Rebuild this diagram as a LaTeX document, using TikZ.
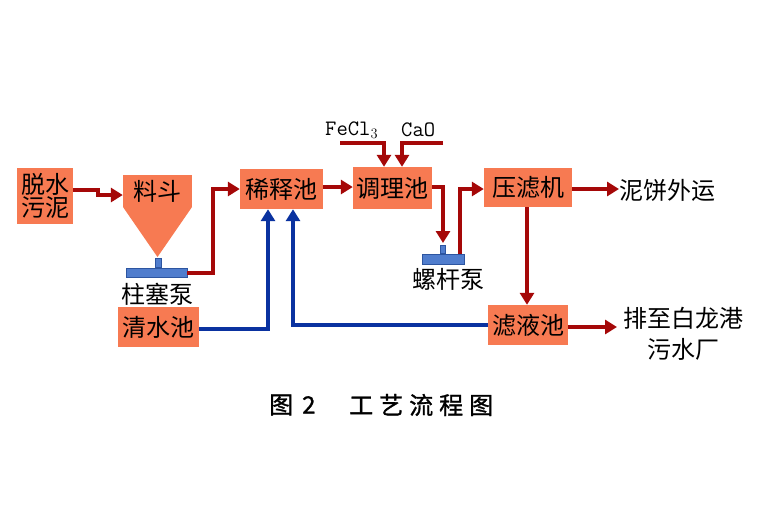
\documentclass[tikz,border=0pt]{standalone}
\usepackage{fontspec}
\newfontfamily\cjk{Noto Sans CJK SC}
\newfontfamily\cjkb{Noto Sans CJK SC}[FakeBold=1.2]
\usetikzlibrary{arrows.meta}
\definecolor{boxor}{RGB}{247,122,82}
\definecolor{flowred}{RGB}{165,8,8}
\definecolor{flowblue}{RGB}{10,50,160}
\definecolor{pumpfill}{RGB}{80,125,205}
\definecolor{pumpdraw}{RGB}{45,85,160}
\tikzset{
  box/.style={fill=boxor, draw=none, inner sep=0pt, font=\cjk\fontsize{24}{26}\selectfont, text=black},
  lbl/.style={inner sep=0pt, font=\cjk\fontsize{24}{31}\selectfont, text=black},
  redflow/.style={draw=flowred, line width=4pt, -{Triangle[length=12pt,width=14pt]}},
  blueflow/.style={draw=flowblue, line width=4pt, -{Triangle[length=12pt,width=14pt]}},
  pumpbar/.style={fill=pumpfill, draw=pumpdraw, line width=0.6pt},
}
\begin{document}
\begin{tikzpicture}[x=1pt,y=-1pt]
\useasboundingbox[fill=white] (0,0) rectangle (768,512);
% boxes
\node[box, minimum width=56pt, minimum height=56pt, align=center] (tuoshui) at (45,196) {脱水\\[-3pt]污泥};
\node[box, minimum width=69pt, minimum height=32pt] (liaodou) at (157.5,191) {料斗};
\node[box, minimum width=83pt, minimum height=40pt] (xishi) at (281.5,189) {稀释池};
\node[box, minimum width=79pt, minimum height=42pt] (tiaoli) at (392.5,188) {调理池};
\node[box, minimum width=88pt, minimum height=39pt] (yalv) at (528,187.5) {压滤机};
\node[box, minimum width=80pt, minimum height=40pt] (lvye) at (528,325) {滤液池};
\node[box, minimum width=81pt, minimum height=40pt] (qingshui) at (158.5,327) {清水池};
% funnel
\fill[boxor] (123,207) -- (192,207) -- (157.5,257) -- cycle;
% pumps
\node[pumpbar, minimum width=6pt, minimum height=9pt, inner sep=0pt] (stem1) at (158,262.5) {};
\node[pumpbar, minimum width=61pt, minimum height=9pt, inner sep=0pt] (pump1) at (156.5,272.5) {};
\node[pumpbar, minimum width=5pt, minimum height=8pt, inner sep=0pt] (stem2) at (442.5,249) {};
\node[pumpbar, minimum width=42pt, minimum height=10pt, inner sep=0pt] (pump2) at (443,259) {};
% labels
\node[lbl] (zhusai) at (157,294) {柱塞泵};
\node[lbl] (luogan) at (448,279) {螺杆泵};
\node[lbl, anchor=west] (nibing) at (619,190) {泥饼外运};
\node[lbl, align=center] (paizhi) at (683,334) {排至白龙港\\污水厂};
\node[inner sep=0pt, font=\ttfamily\fontsize{22}{24}\selectfont, anchor=base west] (fecl) at (325,135) {FeCl$_3$};
\node[inner sep=0pt, font=\ttfamily\fontsize{22}{24}\selectfont, anchor=base west] (cao) at (401,136) {CaO};
% caption
\node[inner sep=0pt, font=\cjkb\fontsize{24}{26}\selectfont, anchor=west] (cap1) at (269,405) {图\hspace{9pt}2};
\node[inner sep=0pt, font=\cjkb\fontsize{24}{26}\selectfont, anchor=west] (cap2) at (349,405) {工\hspace{6pt}艺\hspace{6pt}流\hspace{6pt}程\hspace{6pt}图};
% coordinates
\coordinate (f1) at (340,143);
\coordinate (c1) at (443,143);
\coordinate (stemtop) at (443,243);
\coordinate (pzend) at (617,327);
% red flows
\draw[redflow] (tuoshui.east |- 0,190) -- (98,190) -- (98,195) -- (liaodou.west |- 0,195);
\draw[redflow] (pump1.east) -- (213,272.5) -- (213,189) -- (xishi.west |- 0,189);
\draw[redflow] (xishi.east |- 0,187) -- (tiaoli.west |- 0,187);
\draw[redflow] (f1) -- (384,143) -- (tiaoli.north -| 384,0);
\draw[redflow] (c1) -- (402,143) -- (tiaoli.north -| 402,0);
\draw[redflow] (tiaoli.east |- 0,187) -- (443,187) -- (stemtop);
\draw[redflow] (460,254) -- (460,189) -- (yalv.west |- 0,189);
\draw[redflow] (yalv.east |- 0,189) -- (nibing.west |- 0,189);
\draw[redflow] (yalv.south -| 527,0) -- (lvye.north -| 527,0);
\draw[redflow] (lvye.east |- 0,327) -- (pzend);
% blue flows
\draw[blueflow] (qingshui.east |- 0,329) -- (268,329) -- (xishi.south -| 268,0);
\draw[blueflow] (lvye.west |- 0,325) -- (293,325) -- (xishi.south -| 293,0);
\end{tikzpicture}
\end{document}
